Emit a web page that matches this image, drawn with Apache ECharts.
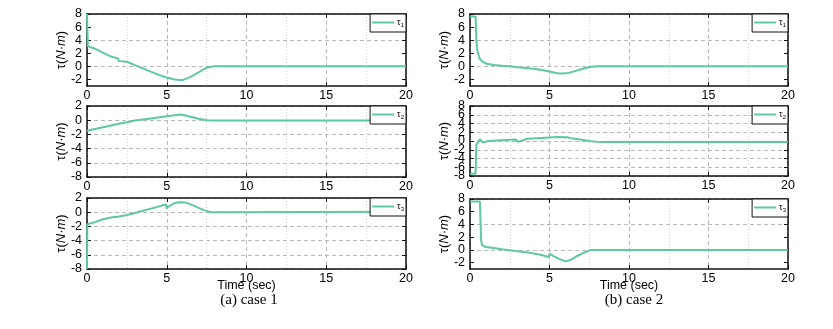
<!DOCTYPE html>
<html><head><meta charset="utf-8">
<script src="https://cdn.jsdelivr.net/npm/echarts@6/dist/echarts.min.js"></script>
<style>html,body{margin:0;padding:0;background:#fff}#c{width:833px;height:329px}</style>
</head><body><div id="c"></div>
<script>
// ---- data ----
const xTicks = [0, 5, 10, 15, 20];
const yTicksSmall = [-2, 0, 2, 4, 6, 8];          // axis -3..8
const yTicksNeg = [-8, -6, -4, -2, 0, 2];         // axis -8..2
const yTicksFull = [-8, -6, -4, -2, 0, 2, 4, 6, 8]; // axis -8..8

// case 1
const tA1 = [0, 0.05, 0.5, 1, 1.5, 1.95, 2.0, 2.1, 2.5, 3, 3.5, 4, 4.5, 5, 5.5, 5.8, 6.0, 6.1, 6.5, 7, 7.5, 7.8, 8, 20];
const yA1 = [8, 3.1, 2.7, 2.1, 1.5, 1.2, 0.8, 0.85, 0.7, 0.2, -0.3, -0.8, -1.3, -1.7, -2.0, -2.1, -2.1, -2.05, -1.6, -0.9, -0.2, -0.05, 0, 0];
const tA2 = [0, 0.1, 1, 2, 2.5, 3, 4, 5, 5.5, 5.9, 6.3, 7, 7.5, 8, 20];
const yA2 = [-1.5, -1.35, -1.0, -0.5, -0.3, -0.05, 0.25, 0.55, 0.7, 0.8, 0.6, 0.2, 0, -0.05, -0.05];
const tA3 = [0, 0.02, 0.5, 1, 1.5, 2, 2.5, 3, 3.5, 4, 4.5, 4.95, 5.0, 5.1, 5.5, 5.8, 6.2, 6.5, 7, 7.5, 7.8, 20];
const yA3 = [-8, -1.7, -1.4, -1.0, -0.75, -0.6, -0.4, -0.1, 0.2, 0.5, 0.8, 1.1, 0.5, 0.8, 1.3, 1.4, 1.35, 1.1, 0.6, 0.15, 0, 0.05];
// case 2
const tB1 = [0, 0.35, 0.4, 0.45, 0.6, 0.8, 1.05, 1.5, 2, 2.5, 3, 3.5, 4, 4.5, 5, 5.5, 5.8, 6.2, 6.5, 7, 7.5, 8, 20];
const yB1 = [7.6, 7.6, 4, 2.5, 1.2, 0.7, 0.4, 0.2, 0.1, 0, -0.15, -0.25, -0.35, -0.55, -0.8, -1.05, -1.1, -1.0, -0.8, -0.45, -0.1, 0, 0];
const tB2 = [0, 0.35, 0.4, 0.5, 0.62, 0.8, 1.2, 2, 2.9, 3.0, 3.1, 3.6, 4.5, 5, 5.5, 6.1, 6.2, 6.3, 7, 7.5, 8, 8.5, 20];
const yB2 = [-7.5, -7.5, -0.8, -0.3, 0.4, -0.3, 0.0, 0.2, 0.35, -0.2, 0.2, 0.5, 0.7, 0.8, 0.9, 0.85, 1.3, 0.7, 0.3, 0.0, -0.2, -0.25, -0.25];
const tB3 = [0, 0.62, 0.7, 0.75, 1.0, 1.5, 2, 2.5, 3, 3.5, 4, 4.5, 4.95, 5.0, 5.2, 5.5, 6, 6.3, 6.7, 7.2, 7.6, 20];
const yB3 = [7.6, 7.6, 1.5, 0.8, 0.45, 0.3, 0.1, -0.05, -0.2, -0.35, -0.55, -0.8, -1.1, -0.6, -0.9, -1.3, -1.8, -1.6, -1.0, -0.4, 0, 0];

const legendSub = { a1: '1', a2: '2', a3: '3', b1: '1', b2: '2', b3: '3' };
const captions = ['(a) case 1', '(b) case 2'];

// ---- layout ----
const lineColor = '#5ec8a0';
const gridColor = '#b8b8b8';
const panels = [
  { l: 87, r: 406, t: 14, b: 86, min: -3, max: 8, ticks: yTicksSmall, ts: tA1, ys: yA1, name: 'a1', last: false },
  { l: 87, r: 406, t: 106, b: 177, min: -8, max: 2, ticks: yTicksNeg, ts: tA2, ys: yA2, name: 'a2', last: false },
  { l: 87, r: 406, t: 198, b: 269, min: -8, max: 2, ticks: yTicksNeg, ts: tA3, ys: yA3, name: 'a3', last: true },
  { l: 470, r: 788, t: 14, b: 86, min: -3, max: 8, ticks: yTicksSmall, ts: tB1, ys: yB1, name: 'b1', last: false },
  { l: 470, r: 788, t: 106, b: 176, min: -8, max: 8, ticks: yTicksFull, ts: tB2, ys: yB2, name: 'b2', last: false },
  { l: 470, r: 788, t: 199, b: 269, min: -3, max: 8, ticks: yTicksSmall, ts: tB3, ys: yB3, name: 'b3', last: true }
];
const W = 833, H = 329;
const font = 'Liberation Sans, Arial, sans-serif';
const frame = { show: true, onZero: false, lineStyle: { color: '#111', width: 1.5 } };
const labelFont = 12.5;

const grid = [], xAxis = [], yAxis = [], series = [], legend = [];
panels.forEach((p, i) => {
  grid.push({ left: p.l, top: p.t, width: p.r - p.l, height: p.b - p.t });
  xAxis.push({
    type: 'value', gridIndex: i, min: xTicks[0], max: xTicks[xTicks.length - 1], interval: 5, position: 'bottom',
    axisLine: frame,
    axisTick: { show: true, inside: true, length: 4, lineStyle: { color: '#111' } },
    axisLabel: { show: true, interval: 0, margin: 3, color: '#000', fontFamily: font, fontSize: labelFont, showMinLabel: true, showMaxLabel: true, hideOverlap: false },
    splitLine: { show: true, lineStyle: { color: gridColor, type: [4, 3], width: 1 } },
    minorTick: { show: false, splitNumber: 2 },
    minorSplitLine: { show: true, lineStyle: { color: '#d0d0d0', type: [1, 2], width: 1 } },
    name: p.last ? 'Time (sec)' : '', nameLocation: 'middle', nameGap: 10, nameMoveOverlap: false,
    nameTextStyle: { color: '#000', fontFamily: font, fontSize: labelFont }
  });
  xAxis.push({
    type: 'value', gridIndex: i, min: 0, max: 20, interval: 5, position: 'top',
    axisLine: frame,
    axisTick: { show: true, inside: true, length: 4, lineStyle: { color: '#111' } },
    axisLabel: { show: false }, splitLine: { show: false }
  });
  // odd minimum (-3): step 1 from min, show only the values listed in p.ticks
  const odd = (p.min % 2 !== 0);
  const step = odd ? 1 : 2;
  // labels are split over two coincident left axes (alternate ticks) so none gets dropped
  const labelPart = (v, parity) => {
    const k = p.ticks.indexOf(v);
    return (k >= 0 && (p.ticks.length - 1 - k) % 2 === parity) ? String(v) : '';
  };
  const labelBase = {
    show: true, interval: 0, margin: 5, color: '#000', fontFamily: font, fontSize: labelFont,
    showMinLabel: true, showMaxLabel: true, hideOverlap: false
  };
  yAxis.push({
    type: 'value', gridIndex: i, min: p.min, max: p.max, interval: step, position: 'left',
    axisLine: frame,
    axisTick: { show: true, inside: true, length: 4, customValues: p.ticks, lineStyle: { color: '#111' } },
    axisLabel: Object.assign({}, labelBase, { formatter: v => labelPart(v, 0) }),
    splitLine: { show: true, lineStyle: { color: odd ? ['rgba(0,0,0,0)', gridColor] : gridColor, type: [4, 3], width: 1 } },
    name: '{n|τ(}{i|N·m}{n|)}', nameLocation: 'middle', nameGap: 19, nameRotate: 90, nameMoveOverlap: false,
    nameTextStyle: {
      rich: {
        n: { fontFamily: font, fontSize: 13, color: '#000' },
        i: { fontFamily: font, fontSize: 13, fontStyle: 'italic', color: '#000' }
      }
    }
  });
  yAxis.push({
    type: 'value', gridIndex: i, min: p.min, max: p.max, interval: step, position: 'right',
    axisLine: frame,
    axisTick: { show: true, inside: true, length: 4, customValues: p.ticks, lineStyle: { color: '#111' } },
    axisLabel: { show: false }, splitLine: { show: false }
  });
  yAxis.push({
    type: 'value', gridIndex: i, min: p.min, max: p.max, interval: step, position: 'left', offset: 0,
    axisLine: { show: false }, axisTick: { show: false }, splitLine: { show: false },
    axisLabel: Object.assign({}, labelBase, { formatter: v => labelPart(v, 1) })
  });
  series.push({
    type: 'line', name: p.name, xAxisIndex: 2 * i, yAxisIndex: 3 * i,
    data: p.ts.map((t, k) => [t, p.ys[k]]),
    showSymbol: false, symbol: 'none', clip: true,
    lineStyle: { color: lineColor, width: 2 }, itemStyle: { color: lineColor },
    z: 3
  });
  legend.push({
    data: [p.name], right: W - p.r, top: p.t,
    orient: 'vertical',
    backgroundColor: '#fff', borderColor: '#111', borderWidth: 1,
    padding: [4, 2, 4, 2], itemWidth: 22, itemHeight: 2, itemGap: 0,
    icon: 'rect',
    formatter: n => '{a|τ}{s|' + legendSub[n] + '}',
    textStyle: {
      padding: [0, 0, 0, -2],
      rich: {
        a: { fontFamily: font, fontSize: 9, color: '#000' },
        s: { fontFamily: font, fontSize: 6, color: '#000', verticalAlign: 'bottom', padding: [5, 0, 0, 0] }
      }
    },
    selectedMode: false
  });
});

const chart = echarts.init(document.getElementById('c'), null, { renderer: 'canvas' });
chart.setOption({
  animation: false,
  backgroundColor: '#fff',
  grid, xAxis, yAxis, series, legend,
  graphic: [
    { type: 'text', x: 249, y: 293, style: { text: captions[0], align: 'center', font: '15px "Liberation Serif", "Times New Roman", serif', fill: '#000' } },
    { type: 'text', x: 634, y: 293, style: { text: captions[1], align: 'center', font: '15px "Liberation Serif", "Times New Roman", serif', fill: '#000' } }
  ]
});
</script>
</body></html>
